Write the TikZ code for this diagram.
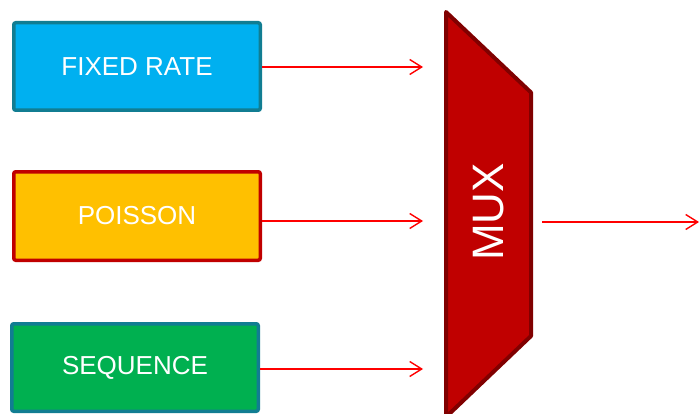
\documentclass[tikz,border=0pt]{standalone}
\usepackage{fontspec}
\setmainfont{Liberation Sans}
\usetikzlibrary{arrows.meta,positioning}
\definecolor{cFixed}{RGB}{0,176,240}
\definecolor{cPois}{RGB}{255,192,0}
\definecolor{cSeq}{RGB}{0,176,80}
\definecolor{cTeal}{RGB}{17,125,146}
\definecolor{cRed}{RGB}{192,0,0}
\definecolor{cDark}{RGB}{128,0,0}

\begin{document}
\begin{tikzpicture}[
  x=1pt, y=-1pt,
  src/.style={rectangle, rounded corners=2pt, line width=3.5pt, text=white,
    minimum width=246.5pt, minimum height=87.5pt, inner sep=0pt,
    font=\fontsize{26}{30}\selectfont},
  ar/.style={-{Straight Barb[length=12pt, width=15pt, line width=1.4pt]},
    line width=1.4pt, draw=red}]
\useasboundingbox (0,0) rectangle (700,414);
\clip (0,0) rectangle (700,414);
\node[src, draw=cTeal, fill=cFixed] (fixed) at (137,66.5) {FIXED RATE};
\node[src, draw=cRed, fill=cPois, minimum height=88.5pt] (pois) at (137,216) {POISSON};
\node[src, draw=cTeal, fill=cSeq] (seq) at (135,367.5) {SEQUENCE};
% multiplexer
\draw[line width=4pt, draw=cDark, fill=cRed, line join=round]
  (446,12) -- (531,92.5) -- (531,336) -- (446,417) -- cycle;
\node[text=white, rotate=90, font=\fontsize{44}{50}\selectfont] (mux) at (489,212) {MUX};
\coordinate (in1) at (423,67);
\coordinate (in2) at (423,221);
\coordinate (in3) at (423,369);
\coordinate (muxout) at (542,222);
\coordinate (out) at (699,222);
\draw[ar] (fixed.east |- in1) -- (in1);
\draw[ar] (pois.east |- in2) -- (in2);
\draw[ar] (seq.east |- in3) -- (in3);
\draw[ar] (muxout) -- (out);
\end{tikzpicture}
\end{document}
